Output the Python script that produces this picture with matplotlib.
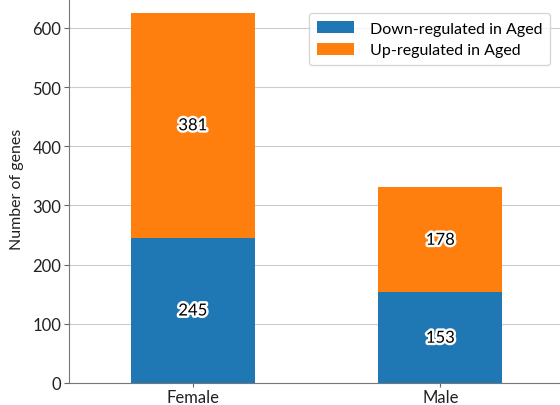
import matplotlib
matplotlib.use("Agg")
import matplotlib.pyplot as plt
import matplotlib.patheffects as pe
import numpy as np

groups = ["Female", "Male"]
down_regulated = [245, 153]
up_regulated = [381, 178]
series_labels = ["Down-regulated in Aged", "Up-regulated in Aged"]
y_ticks = [0, 100, 200, 300, 400, 500, 600]

plt.rcParams["font.family"] = ["Lato", "DejaVu Sans"]

fig = plt.figure(figsize=(5.6, 4.06), dpi=100)
ax = fig.add_axes([69 / 560, 22 / 406, (564 - 69) / 560, (384 + 5) / 406])

x = np.arange(len(groups))
width = 0.5
b1 = ax.bar(x, down_regulated, width, color="#1f77b4", label=series_labels[0], zorder=2)
b2 = ax.bar(x, up_regulated, width, bottom=down_regulated, color="#ff7f0e",
            label=series_labels[1], zorder=2)

stroke = [pe.withStroke(linewidth=3.5, foreground="white")]
for bars, vals, bottoms in ((b1, down_regulated, [0, 0]), (b2, up_regulated, down_regulated)):
    for rect, v, b in zip(bars, vals, bottoms):
        ax.text(rect.get_x() + rect.get_width() / 2, b + v / 2, str(v),
                ha="center", va="center", fontsize=12, color="black",
                path_effects=stroke, zorder=3)

ax.set_xlim(-0.5, 1.5)
ax.set_ylim(0, 657.3)
ax.set_xticks(x)
ax.set_xticklabels(groups)
ax.set_yticks(y_ticks)
ax.tick_params(labelsize=12, colors="#222222", length=3.5, pad=2, color="#666666")
ax.tick_params(axis="x", length=3, pad=1)
ax.set_ylabel("Number of genes", fontsize=11.5, color="#222222", labelpad=6)
ax.yaxis.grid(True, color="#cccccc", linewidth=0.8, zorder=0)
ax.set_axisbelow(True)
for s in ("left", "bottom"):
    ax.spines[s].set_color("#777777")
for s in ("top", "right"):
    ax.spines[s].set_visible(False)

leg = ax.legend(loc="upper right", bbox_to_anchor=((558 - 69) / 495, (384 - 6) / 389),
                fontsize=11.5, frameon=True, handlelength=2.3, handleheight=0.8,
                borderpad=0.5, labelspacing=0.45, handletextpad=1.0)
leg.get_frame().set_edgecolor("#cccccc")

fig.savefig("out.png", dpi=100)
